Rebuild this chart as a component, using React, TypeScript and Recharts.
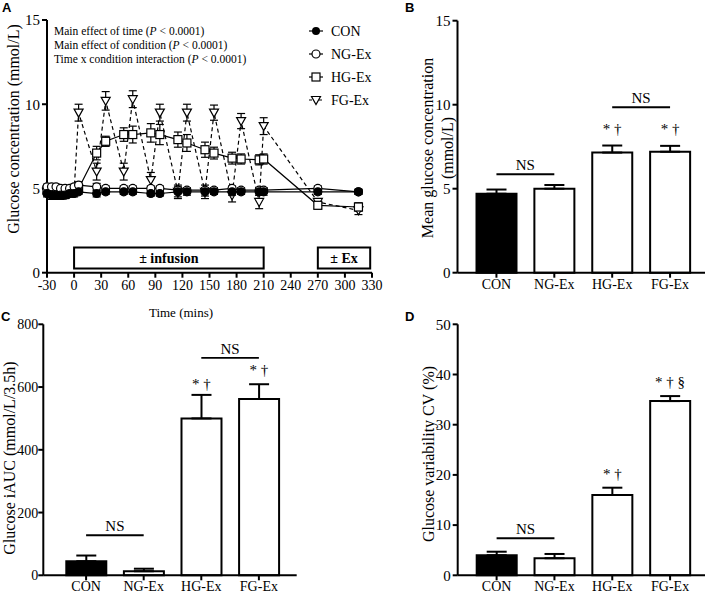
import React from "react";
import {
  LineChart,
  Line,
  XAxis,
  YAxis,
  ErrorBar,
  ReferenceArea,
  BarChart,
  Bar,
  Cell,
  ReferenceLine,
  ReferenceDot,
} from "recharts";

const SERIF = '"Liberation Serif", "Times New Roman", serif';
const SANS = '"Liberation Sans", Arial, sans-serif';

// Panel A: sampling times (mins) and glucose (mmol/L), mean + SEM
const times = [-30, -25, -20, -15, -10, -5, 0, 5, 25, 35, 55, 65, 85, 95, 115, 125, 145, 155, 175, 185, 205, 210, 270, 315];
const conMean = [4.7, 4.6, 4.6, 4.6, 4.6, 4.7, 4.7, 4.8, 4.7, 4.8, 4.8, 4.8, 4.7, 4.7, 4.8, 4.8, 4.8, 4.8, 4.8, 4.8, 4.8, 4.8, 4.8, 4.8];
const conSem = [0.2, 0.25, 0.25, 0.25, 0.2, 0.2, 0.2, 0.15, 0.2, 0.15, 0.15, 0.15, 0.15, 0.15, 0.3, 0.2, 0.25, 0.15, 0.2, 0.15, 0.2, 0.2, 0.15, 0.15];
const ngMean = [5.1, 5.1, 5.1, 5.0, 5.0, 5.0, 5.1, 5.2, 5.1, 5.0, 5.0, 5.0, 5.0, 5.0, 4.9, 4.9, 4.9, 4.9, 5.0, 4.9, 4.9, 4.9, 5.0, 4.8];
const ngSem = [0.15, 0.15, 0.15, 0.15, 0.15, 0.15, 0.15, 0.2, 0.2, 0.15, 0.15, 0.15, 0.15, 0.15, 0.15, 0.15, 0.15, 0.15, 0.15, 0.15, 0.15, 0.15, 0.15, 0.15];
const hgMean = [4.9, 4.9, 4.8, 4.8, 4.8, 4.8, 4.9, 5.0, 7.1, 7.8, 8.2, 8.2, 8.3, 8.2, 7.9, 7.7, 7.3, 7.1, 6.8, 6.75, 6.7, 6.75, 4.0, 3.9];
const hgSem = [0.2, 0.2, 0.2, 0.2, 0.2, 0.2, 0.2, 0.25, 0.4, 0.3, 0.4, 0.5, 0.55, 0.6, 0.45, 0.5, 0.45, 0.35, 0.35, 0.3, 0.3, 0.3, 0.2, 0.25];
const fgMean = [4.8, 4.8, 4.7, 4.7, 4.7, 4.7, 4.8, 9.5, 6.0, 10.2, 6.0, 10.3, 5.5, 9.5, 4.8, 9.5, 4.8, 9.5, 4.6, 9.0, 4.2, 8.7, 4.2, 3.7];
const fgSem = [0.2, 0.2, 0.2, 0.2, 0.2, 0.2, 0.2, 0.5, 0.5, 0.55, 0.5, 0.5, 0.45, 0.5, 0.4, 0.5, 0.4, 0.45, 0.4, 0.45, 0.4, 0.5, 0.2, 0.25];
const timeTicks = [-30, 0, 30, 60, 90, 120, 150, 180, 210, 240, 270, 300, 330];
const glucoseTicks = [0, 5, 10, 15];

// Panels B-D: per condition
const groups = ["CON", "NG-Ex", "HG-Ex", "FG-Ex"];
const meanGlucose = [4.7, 5.0, 7.15, 7.2];
const meanGlucoseSem = [0.25, 0.22, 0.42, 0.35];
const iauc = [45, 13, 500, 562];
const iaucSem = [18, 8, 75, 47];
const cv = [4.0, 3.4, 16.0, 34.7];
const cvSem = [0.7, 0.85, 1.45, 1.0];
const iaucTicks = [0, 200, 400, 600, 800];
const cvTicks = [0, 10, 20, 30, 40, 50];

const timeline = times.map((t, i) => ({
  t,
  con: conMean[i],
  conE: conSem[i],
  ng: ngMean[i],
  ngE: ngSem[i],
  hg: hgMean[i],
  hgE: hgSem[i],
  fg: fgMean[i],
  fgE: fgSem[i],
}));

const toBars = (vals: number[], sems: number[]) =>
  groups.map((name, i) => ({ name, v: vals[i], e: [0, sems[i]] }));

const axisLine = { stroke: "#000", strokeWidth: 2 };
const tick = { fill: "#000", fontSize: 14, fontFamily: SERIF };

// markers
const dotCircle = (filled: boolean) => (p: any) =>
  <circle key={p.index} cx={p.cx} cy={p.cy} r={4} fill={filled ? "#000" : "#fff"} stroke="#000" strokeWidth={1.2} />;
const dotSquare = (p: any) =>
  <rect key={p.index} x={p.cx - 4} y={p.cy - 4} width={8} height={8} fill="#fff" stroke="#000" strokeWidth={1.2} />;
const dotTriangle = (p: any) =>
  <polygon key={p.index} points={`${p.cx - 4.5},${p.cy - 3.5} ${p.cx + 4.5},${p.cy - 3.5} ${p.cx},${p.cy + 4.5}`} fill="#fff" stroke="#000" strokeWidth={1.2} />;

function LegendMark({ kind, x, y }: { kind: string; x: number; y: number }) {
  const dash = kind === "tri" ? "3 2" : undefined;
  return (
    <g>
      <line x1={x - 7} x2={x + 7} y1={y} y2={y} stroke="#000" strokeWidth={1.2} strokeDasharray={dash} />
      {kind === "fill" && <circle cx={x} cy={y} r={4} fill="#000" />}
      {kind === "open" && <circle cx={x} cy={y} r={4} fill="#fff" stroke="#000" strokeWidth={1.2} />}
      {kind === "sq" && <rect x={x - 4} y={y - 4} width={8} height={8} fill="#fff" stroke="#000" strokeWidth={1.2} />}
      {kind === "tri" && <polygon points={`${x - 4.5},${y - 3.5} ${x + 4.5},${y - 3.5} ${x},${y + 4.5}`} fill="#fff" stroke="#000" strokeWidth={1.2} />}
    </g>
  );
}

function PanelA() {
  return (
    <div style={{ position: "absolute", left: 0, top: 0 }}>
      <LineChart width={395} height={330} data={timeline} margin={{ top: 20, right: 23, bottom: 0, left: 0 }}>
        <XAxis
          dataKey="t"
          type="number"
          domain={[-30, 330]}
          ticks={timeTicks}
          height={57.3}
          axisLine={axisLine}
          tickLine={axisLine}
          tickSize={5}
          tick={{ ...tick, fontSize: 14 }}
          interval={0}
        />
        <YAxis
          domain={[0, 15]}
          ticks={glucoseTicks}
          width={47}
          axisLine={axisLine}
          tickLine={axisLine}
          tickSize={5}
          tick={{ ...tick, fontSize: 15 }}
        />
        <ReferenceArea
          x1={0}
          x2={210}
          y1={0.25}
          y2={1.5}
          fill="#fff"
          fillOpacity={1}
          stroke="#000"
          strokeWidth={2}
          label={{ value: "± infusion", position: "center", fill: "#000", fontSize: 14, fontWeight: "bold", fontFamily: SERIF }}
        />
        <ReferenceArea
          x1={270}
          x2={328}
          y1={0.25}
          y2={1.5}
          fill="#fff"
          fillOpacity={1}
          stroke="#000"
          strokeWidth={2}
          label={{ value: "± Ex", position: "center", fill: "#000", fontSize: 14, fontWeight: "bold", fontFamily: SERIF }}
        />
        <Line dataKey="fg" stroke="#000" strokeWidth={1.2} strokeDasharray="4 3" dot={dotTriangle} activeDot={false} isAnimationActive={false}>
          <ErrorBar dataKey="fgE" width={4} stroke="#000" strokeWidth={1.2} />
        </Line>
        <Line dataKey="hg" stroke="#000" strokeWidth={1.2} dot={dotSquare} activeDot={false} isAnimationActive={false}>
          <ErrorBar dataKey="hgE" width={4} stroke="#000" strokeWidth={1.2} />
        </Line>
        <Line dataKey="ng" stroke="#000" strokeWidth={1.2} dot={dotCircle(false)} activeDot={false} isAnimationActive={false}>
          <ErrorBar dataKey="ngE" width={4} stroke="#000" strokeWidth={1.2} />
        </Line>
        <Line dataKey="con" stroke="#000" strokeWidth={1.2} dot={dotCircle(true)} activeDot={false} isAnimationActive={false}>
          <ErrorBar dataKey="conE" width={4} stroke="#000" strokeWidth={1.2} />
        </Line>
      </LineChart>
    </div>
  );
}

type NS = { from: string; to: string; y: number };
type Mark = { x: string; y: number; text: string };

function BarPanel(props: {
  left: number;
  top: number;
  width: number;
  height: number;
  marginTop: number;
  yWidth: number;
  yFont: number;
  yMargin: number;
  xHeight: number;
  padL: number;
  padR: number;
  data: { name: string; v: number; e: number[] }[];
  domain: [number, number];
  ticks: number[];
  ns: NS[];
  marks: Mark[];
}) {
  const p = props;
  return (
    <div style={{ position: "absolute", left: p.left, top: p.top }}>
      <BarChart width={p.width} height={p.height} data={p.data} margin={{ top: p.marginTop, right: 4, bottom: 0, left: 0 }}>
        <XAxis
          dataKey="name"
          height={p.xHeight}
          padding={{ left: p.padL, right: p.padR }}
          axisLine={axisLine}
          tickLine={axisLine}
          tickSize={5}
          tickMargin={1}
          tick={tick}
          interval={0}
        />
        <YAxis
          domain={p.domain}
          ticks={p.ticks}
          width={p.yWidth}
          axisLine={axisLine}
          tickLine={axisLine}
          tickSize={5}
          tickMargin={p.yMargin}
          tick={{ ...tick, fontSize: p.yFont }}
        />
        <Bar dataKey="v" barSize={40} stroke="#000" strokeWidth={2} isAnimationActive={false}>
          {p.data.map((d, i) => (
            <Cell key={d.name} fill={i === 0 ? "#000" : "#fff"} />
          ))}
          <ErrorBar dataKey="e" width={10} stroke="#000" strokeWidth={2} />
        </Bar>
        {p.ns.map((n, i) => (
          <ReferenceLine
            key={"ns" + i}
            segment={[{ x: n.from, y: n.y }, { x: n.to, y: n.y }]}
            stroke="#000"
            strokeWidth={2}
            label={{ value: "NS", position: "top", offset: 4, fill: "#000", fontSize: 15, fontFamily: SERIF }}
          />
        ))}
        {p.marks.map((m, i) => (
          <ReferenceDot
            key={"m" + i}
            x={m.x}
            y={m.y}
            r={0}
            fill="none"
            stroke="none"
            label={{ value: m.text, position: "center", fill: "#000", fontSize: 15, fontFamily: SERIF }}
          />
        ))}
      </BarChart>
    </div>
  );
}

const legendKinds = ["fill", "open", "sq", "tri"];
const legendY = [31, 54, 77, 100];
const effects = ["Main effect of time", "Main effect of condition", "Time x condition interaction"];

export default function App() {
  return (
    <div style={{ position: "absolute", left: 0, top: 0, width: 709, height: 594, background: "#fff", fontFamily: SERIF }}>
      <PanelA />
      <BarPanel
        left={400}
        top={0}
        width={309}
        height={300}
        marginTop={20.7}
        yWidth={57.5}
        yFont={15}
        yMargin={2}
        xHeight={27.3}
        padL={10}
        padR={6}
        data={toBars(meanGlucose, meanGlucoseSem)}
        domain={[0, 15]}
        ticks={glucoseTicks}
        ns={[
          { from: "CON", to: "NG-Ex", y: 5.86 },
          { from: "HG-Ex", to: "FG-Ex", y: 9.85 },
        ]}
        marks={[
          { x: "HG-Ex", y: 8.6, text: "* †" },
          { x: "FG-Ex", y: 8.6, text: "* †" },
        ]}
      />
      <BarPanel
        left={0}
        top={300}
        width={300.7}
        height={294}
        marginTop={24.3}
        yWidth={43.3}
        yFont={14}
        yMargin={0}
        xHeight={18.7}
        padL={14}
        padR={9}
        data={toBars(iauc, iaucSem)}
        domain={[0, 800]}
        ticks={iaucTicks}
        ns={[
          { from: "CON", to: "NG-Ex", y: 128 },
          { from: "HG-Ex", to: "FG-Ex", y: 693 },
        ]}
        marks={[
          { x: "HG-Ex", y: 612, text: "* †" },
          { x: "FG-Ex", y: 654, text: "* †" },
        ]}
      />
      <BarPanel
        left={400}
        top={300}
        width={309}
        height={294}
        marginTop={24.3}
        yWidth={57.7}
        yFont={15}
        yMargin={2}
        xHeight={18.7}
        padL={10}
        padR={6}
        data={toBars(cv, cvSem)}
        domain={[0, 50]}
        ticks={cvTicks}
        ns={[{ from: "CON", to: "NG-Ex", y: 7.4 }]}
        marks={[
          { x: "HG-Ex", y: 20.3, text: "* †" },
          { x: "FG-Ex", y: 38.6, text: "* † §" },
        ]}
      />
      <svg width={709} height={594} style={{ position: "absolute", left: 0, top: 0, pointerEvents: "none" }}>
        <g fontFamily={SANS} fontWeight="bold" fontSize={13} fill="#000">
          <text x={2} y={12}>A</text>
          <text x={405} y={12}>B</text>
          <text x={1} y={321}>C</text>
          <text x={405} y={321}>D</text>
        </g>
        <g fontFamily={SERIF} fill="#000">
          <text x={13} y={129} fontSize={16} textAnchor="middle" dominantBaseline="central" transform="rotate(-90 13 129)">
            Glucose concentration (mmol/L)
          </text>
          <text x={181} y={312} fontSize={13} textAnchor="middle" dominantBaseline="central">Time (mins)</text>
          <text x={427} y={148} fontSize={16} textAnchor="middle" dominantBaseline="central" transform="rotate(-90 427 148)">
            Mean glucose concentration
          </text>
          <text x={447} y={148} fontSize={16} textAnchor="middle" dominantBaseline="central" transform="rotate(-90 447 148)">
            (mmol/L)
          </text>
          <text x={9} y={458} fontSize={16} textAnchor="middle" dominantBaseline="central" transform="rotate(-90 9 458)">
            Glucose iAUC (mmol/L/3.5h)
          </text>
          <text x={428} y={454} fontSize={16} textAnchor="middle" dominantBaseline="central" transform="rotate(-90 428 454)">
            Glucose variability CV (%)
          </text>
          {effects.map((e, i) => (
            <text key={e} x={54} y={31 + i * 14.2} fontSize={11.5} dominantBaseline="central">
              {e} (<tspan fontStyle="italic">P</tspan> {"< 0.0001)"}
            </text>
          ))}
          {groups.map((g, i) => (
            <g key={g}>
              <LegendMark kind={legendKinds[i]} x={316} y={legendY[i]} />
              <text x={331} y={legendY[i]} fontSize={14} dominantBaseline="central">{g}</text>
            </g>
          ))}
        </g>
      </svg>
    </div>
  );
}
